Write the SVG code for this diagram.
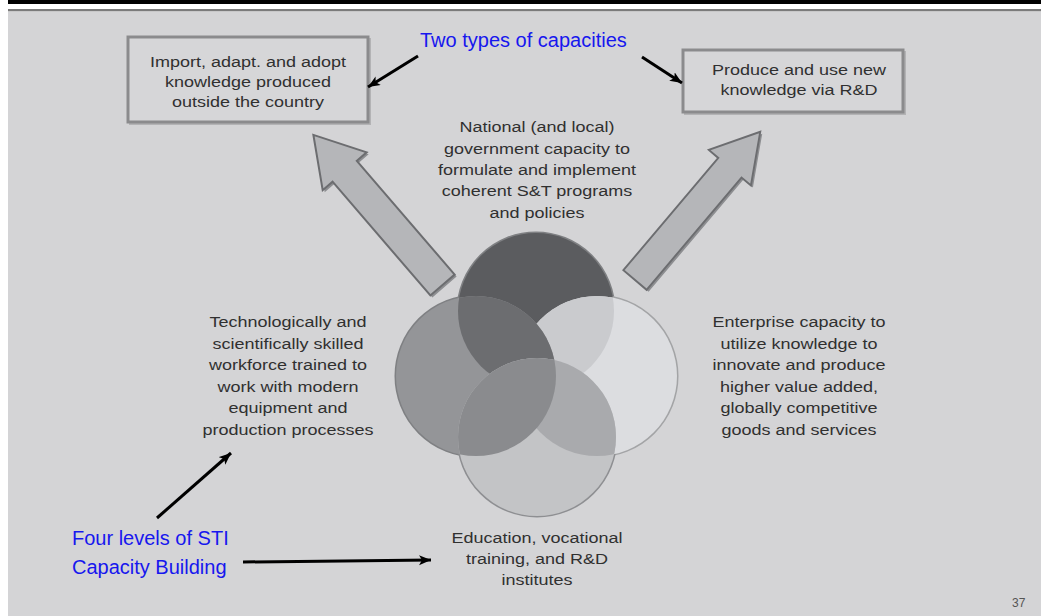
<svg xmlns="http://www.w3.org/2000/svg" width="1041" height="616" viewBox="0 0 1041 616">
  <style>
    .g { font-family: "Liberation Sans", Arial, sans-serif; font-size: 15px; fill: #303030; text-anchor: middle; }
    .blue { font-family: "Liberation Sans", Arial, sans-serif; font-size: 20px; fill: #1717ee; }
    .box { fill: #d6d6d8; stroke: #8b8b8d; stroke-width: 3; }
    .boxsh { fill: none; stroke: #b3b3b5; stroke-width: 2; }
    .big { fill: #b5b6b9; stroke: #6c6d70; stroke-width: 2; stroke-linejoin: miter; }
    .bigsh { fill: #8d8e91; }
    .conn { stroke: #000; stroke-width: 3; fill: none; marker-end: url(#ah); }
  </style>
  <defs>
    <marker id="ah" markerUnits="userSpaceOnUse" markerWidth="13" markerHeight="11" refX="12" refY="5" orient="auto">
      <path d="M0,0 L12,5 L0,10 L3,5 z" fill="#000"/>
    </marker>
    <clipPath id="cR"><circle cx="597" cy="376" r="80"/></clipPath>
    <clipPath id="cL"><circle cx="476" cy="376" r="80"/></clipPath>
    <polygon id="bigArrow" points="0,-16 150,-16 150,-29 198,0 150,29 150,16 0,16"/>
  </defs>

  <!-- page background -->
  <rect x="0" y="0" width="1041" height="616" fill="#ffffff"/>
  <rect x="8" y="0" width="1033" height="4" fill="#000000"/>
  <rect x="8" y="9" width="1033" height="2.5" fill="#7b7b7b"/>
  <rect x="8" y="11.5" width="1033" height="604.5" fill="#d4d4d6"/>

  <!-- big grey arrows -->
  <g id="arrow-left">
    <use href="#bigArrow" class="bigsh" transform="translate(444.5,287) rotate(-130.7)"/>
    <use href="#bigArrow" class="big" transform="translate(442.5,285) rotate(-130.7)"/>
  </g>
  <g id="arrow-right">
    <use href="#bigArrow" class="bigsh" transform="translate(637,282) rotate(-49.8) scale(0.98,0.95)"/>
    <use href="#bigArrow" class="big" transform="translate(635,280) rotate(-49.8) scale(0.98,0.95)"/>
  </g>

  <!-- Venn circles -->
  <g id="venn">
    <g fill="none" stroke="#7f8083" stroke-width="3">
      <circle cx="536" cy="311" r="78"/>
      <circle cx="476" cy="376" r="80"/>
      <circle cx="597" cy="376" r="80" stroke="#a3a4a6"/>
      <circle cx="537" cy="437" r="79" stroke="#8e8f92"/>
    </g>
    <circle id="c-top" cx="536" cy="311" r="78" fill="#5b5c5f"/>
    <circle id="c-right" cx="597" cy="376" r="80" fill="#dcdde0"/>
    <circle cx="536" cy="311" r="78" fill="#cacbce" clip-path="url(#cR)"/>
    <circle id="c-left" cx="476" cy="376" r="80" fill="#949598"/>
    <circle cx="536" cy="311" r="78" fill="#6c6d70" clip-path="url(#cL)"/>
    <circle id="c-bottom" cx="537" cy="437" r="79" fill="#c3c4c6"/>
    <circle cx="537" cy="437" r="79" fill="#a9aaad" clip-path="url(#cR)"/>
    <circle cx="537" cy="437" r="79" fill="#8a8b8e" clip-path="url(#cL)"/>
  </g>

  <!-- boxes -->
  <g id="box-import">
    <rect x="130" y="39" width="240" height="85" class="boxsh"/>
    <rect x="128" y="37" width="240" height="85" class="box"/>
    <g transform="translate(248,0) scale(1.2,1)">
      <text class="g" x="0" y="67">Import, adapt. and adopt</text>
      <text class="g" x="0" y="87">knowledge produced</text>
      <text class="g" x="0" y="107">outside the country</text>
    </g>
  </g>
  <g id="box-produce">
    <rect x="685" y="52" width="220" height="62" class="boxsh"/>
    <rect x="683" y="50" width="220" height="62" class="box"/>
    <g transform="translate(799,0) scale(1.2,1)">
      <text class="g" x="0" y="75">Produce and use new</text>
      <text class="g" x="0" y="95">knowledge via R&amp;D</text>
    </g>
  </g>

  <!-- level texts -->
  <g id="text-government" transform="translate(537,0) scale(1.2,1)">
    <text class="g" x="0" y="132">National (and local)</text>
    <text class="g" x="0" y="154">government capacity to</text>
    <text class="g" x="0" y="175">formulate and implement</text>
    <text class="g" x="0" y="196">coherent S&amp;T programs</text>
    <text class="g" x="0" y="218">and policies</text>
  </g>
  <g id="text-workforce" transform="translate(288,0) scale(1.2,1)">
    <text class="g" x="0" y="327">Technologically and</text>
    <text class="g" x="0" y="349">scientifically skilled</text>
    <text class="g" x="0" y="370">workforce trained to</text>
    <text class="g" x="0" y="392">work with modern</text>
    <text class="g" x="0" y="413">equipment and</text>
    <text class="g" x="0" y="435">production processes</text>
  </g>
  <g id="text-enterprise" transform="translate(799,0) scale(1.2,1)">
    <text class="g" x="0" y="327">Enterprise capacity to</text>
    <text class="g" x="0" y="349">utilize knowledge to</text>
    <text class="g" x="0" y="370">innovate and produce</text>
    <text class="g" x="0" y="392">higher value added,</text>
    <text class="g" x="0" y="413">globally competitive</text>
    <text class="g" x="0" y="435">goods and services</text>
  </g>
  <g id="text-education" transform="translate(537,0) scale(1.2,1)">
    <text class="g" x="0" y="543">Education, vocational</text>
    <text class="g" x="0" y="564">training, and R&amp;D</text>
    <text class="g" x="0" y="585">institutes</text>
  </g>

  <!-- annotations -->
  <g id="label-two-types">
    <text class="blue" x="420" y="47">Two types of capacities</text>
  </g>
  <g id="label-four-levels">
    <text class="blue" x="72" y="545">Four levels of STI</text>
    <text class="blue" x="72" y="574">Capacity Building</text>
  </g>

  <g id="connectors">
    <line class="conn" x1="418" y1="56" x2="368" y2="87"/>
    <line class="conn" x1="642" y1="57" x2="682" y2="83"/>
    <line class="conn" x1="157" y1="518" x2="231" y2="453"/>
    <line class="conn" x1="243" y1="562" x2="431" y2="560"/>
  </g>

  <text x="1012" y="607" font-family="Liberation Sans, Arial, sans-serif" font-size="12" fill="#555555">37</text>
</svg>
